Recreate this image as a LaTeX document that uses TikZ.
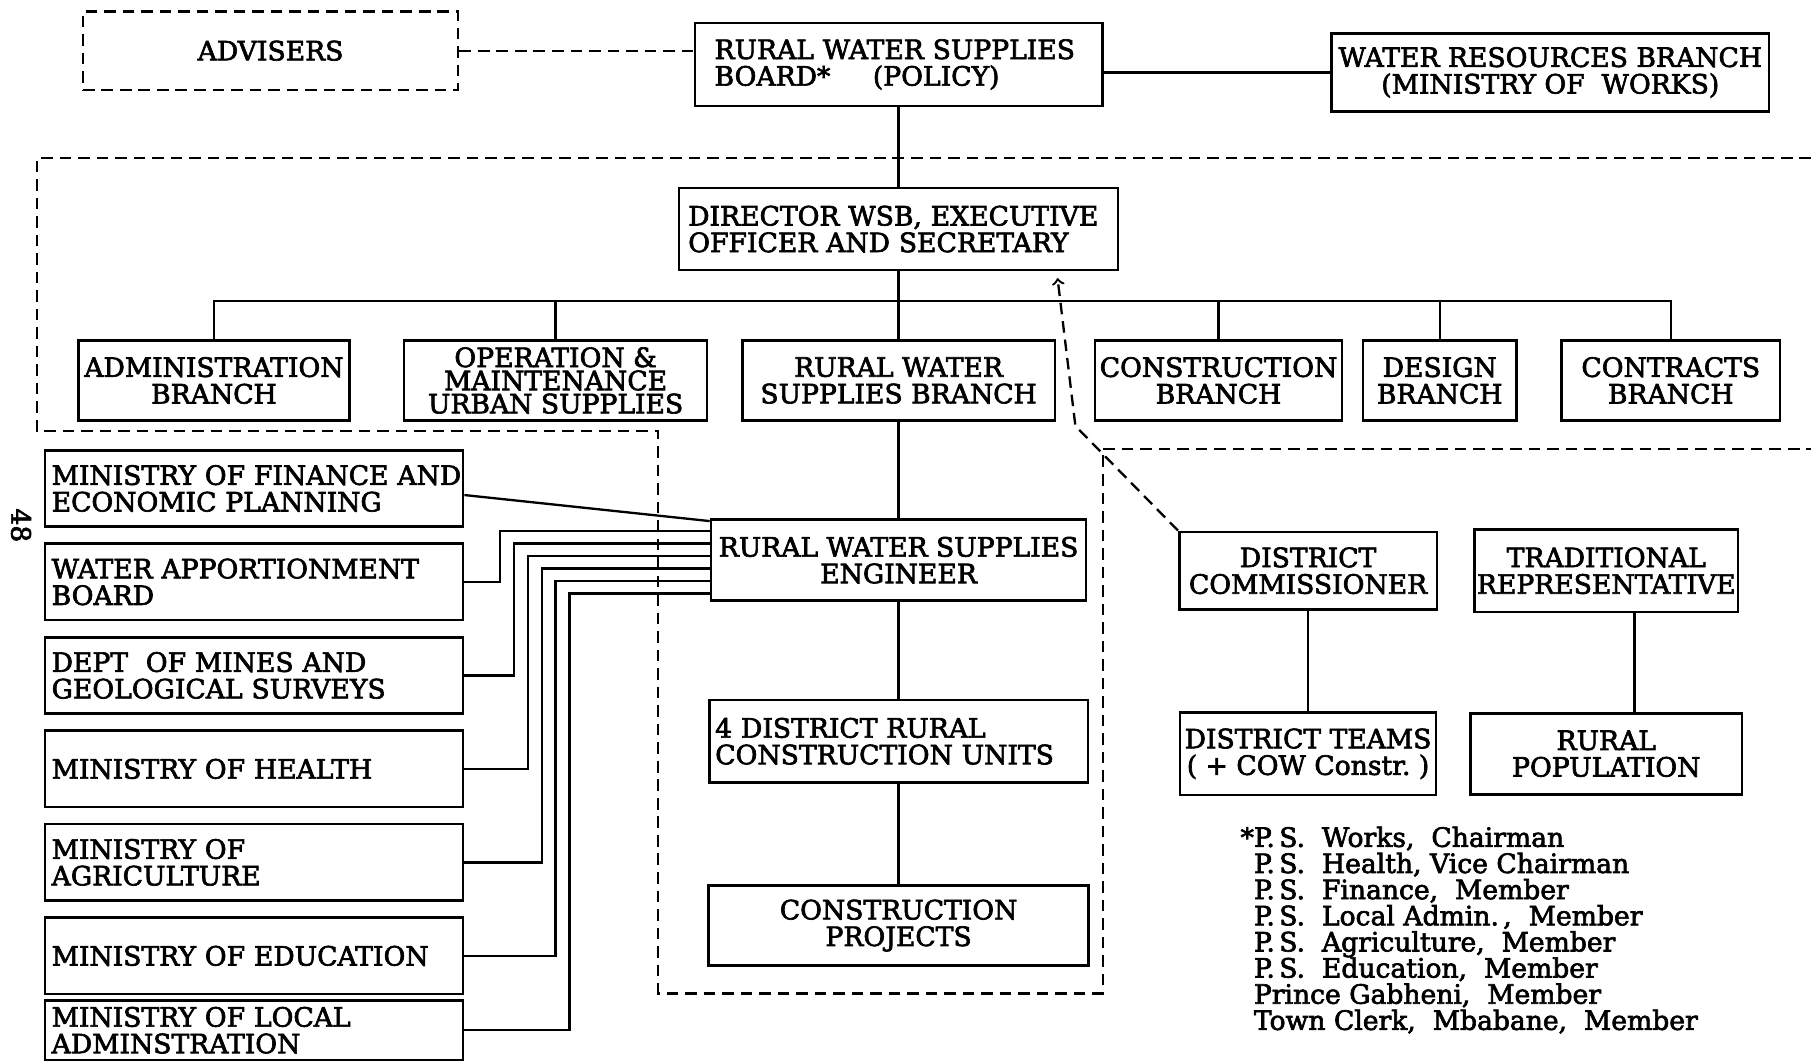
\documentclass[tikz,border=0pt]{standalone}
\usepackage{fontspec}
\setmainfont{DejaVu Serif}[FakeBold=2.5]
\usepackage{tikz}
\usetikzlibrary{shapes,arrows}
\tikzstyle{unit} = [rectangle, draw, line width=1.1pt, align=center, inner sep=2pt,
    font=\fontsize{11.5}{11.5}\selectfont, minimum height=1.22cm]
\tikzstyle{dashedunit} = [unit, dash pattern=on 5pt off 3pt]
\tikzstyle{leftunit} = [unit, align=left]
\tikzstyle{ministry} = [unit, align=left, text width=6.15cm, inner xsep=0.1cm, minimum height=1.16cm]
\tikzstyle{line} = [draw, line width=1pt]
\tikzstyle{dashline} = [draw, line width=1pt, dash pattern=on 5pt off 3pt]
\tikzstyle{notes} = [font=\fontsize{11.5}{11.3}\selectfont, align=left, inner sep=0pt]

\begin{document}
\begin{tikzpicture}[node distance = 2cm, auto]
    \useasboundingbox (0,0) rectangle (27.51,-16.12);
    % Place nodes
    \node [leftunit, text width=5.59cm, inner xsep=0.3cm, minimum height=1.26cm] (board) at (13.65,-0.98) {RURAL WATER SUPPLIES\\BOARD*\hspace{1.6em}(POLICY)};
    \node [dashedunit, left of=board, node distance=9.54cm, yshift=0.21cm, minimum width=5.70cm, minimum height=1.19cm] (advisers) {ADVISERS};
    \node [unit, right of=board, node distance=9.90cm, yshift=-0.12cm, minimum width=6.65cm, minimum height=1.18cm] (wrb) {WATER RESOURCES BRANCH\\(MINISTRY OF\ \ WORKS)};
    \node [leftunit, below of=board, node distance=2.50cm, text width=6.39cm, inner xsep=0.14cm, minimum height=1.25cm] (director) {DIRECTOR WSB, EXECUTIVE\\OFFICER\ AND\ SECRETARY};
    % branches
    \node [unit, below of=director, node distance=2.30cm, minimum width=4.75cm] (rwsb) {RURAL WATER\\SUPPLIES BRANCH};
    \node [unit, left of=rwsb, node distance=5.21cm, minimum width=4.60cm, font=\fontsize{11.5}{10}\selectfont, inner ysep=1pt] (om) {OPERATION \&\\MAINTENANCE\\URBAN SUPPLIES};
    \node [unit, left of=om, node distance=5.19cm, minimum width=4.12cm] (admin) {ADMINISTRATION\\BRANCH};
    \node [unit, right of=rwsb, node distance=4.86cm, minimum width=3.68cm] (constr) {CONSTRUCTION\\BRANCH};
    \node [unit, right of=constr, node distance=3.36cm, minimum width=2.33cm] (design) {DESIGN\\BRANCH};
    \node [unit, right of=design, node distance=3.51cm, minimum width=3.32cm] (contracts) {CONTRACTS\\BRANCH};
    % rural water supplies column
    \node [unit, below of=rwsb, node distance=2.73cm, minimum width=5.70cm, minimum height=1.23cm] (engineer) {RURAL WATER SUPPLIES\\ENGINEER};
    \node [leftunit, below of=engineer, node distance=2.75cm, text width=5.57cm, inner xsep=0.09cm, minimum height=1.26cm] (units) {4 DISTRICT RURAL\\CONSTRUCTION UNITS};
    \node [unit, below of=units, node distance=2.80cm, minimum width=5.77cm, minimum height=1.21cm] (projects) {CONSTRUCTION\\PROJECTS};
    % ministries
    \node [ministry] (finance) at (3.86,-7.42) {\mbox{MINISTRY OF FINANCE AND}\\ECONOMIC PLANNING};
    \node [ministry, below of=finance, node distance=1.42cm] (wab) {WATER APPORTIONMENT\\BOARD};
    \node [ministry, below of=wab, node distance=1.42cm] (mines) {DEPT\ \ OF MINES AND\\GEOLOGICAL SURVEYS};
    \node [ministry, below of=mines, node distance=1.42cm] (health) {MINISTRY OF HEALTH};
    \node [ministry, below of=health, node distance=1.42cm] (agri) {MINISTRY OF\\AGRICULTURE};
    \node [ministry, below of=agri, node distance=1.42cm] (edu) {MINISTRY OF EDUCATION};
    \node [ministry, below of=edu, node distance=1.13cm, minimum height=0.90cm] (local) {MINISTRY OF LOCAL\\ADMINSTRATION};
    % district level
    \node [unit, right of=engineer, node distance=6.22cm, yshift=-0.16cm, minimum width=3.91cm, minimum height=1.18cm] (dc) {DISTRICT\\COMMISSIONER};
    \node [unit, right of=dc, node distance=4.53cm, minimum width=3.89cm, minimum height=1.26cm, inner xsep=1pt] (trad) {TRADITIONAL\\REPRESENTATIVE};
    \node [unit, below of=dc, node distance=2.78cm, minimum width=3.89cm, minimum height=1.25cm] (teams) {DISTRICT TEAMS\\( + COW Constr.\ )};
    \node [unit, below of=trad, node distance=2.78cm, minimum width=4.12cm, minimum height=1.23cm] (pop) {RURAL\\POPULATION};
    \node [notes, anchor=north west] (members) at (19.04,-12.55) {\llap{*}P.\,S.\ \ Works,\ \ Chairman\\
        P.\,S.\ \ Health, Vice Chairman\\
        P.\,S.\ \ Finance,\ \ Member\\
        P.\,S.\ \ Local Admin.\,,\ \ Member\\
        P.\,S.\ \ Agriculture,\ \ Member\\
        P.\,S.\ \ Education,\ \ Member\\
        Prince Gabheni,\ \ Member\\
        Town Clerk,\ \ Mbabane,\ \ Member};
    \node [rotate=-90, font=\fontsize{11.5}{11.5}\selectfont] (page) at (0.32,-7.98) {48};
    % Draw edges
    \path [dashline] (advisers.east) -- (advisers.east -| board.west);
    \path [line] (wrb.west -| board.east) -- (wrb.west);
    \path [line] (board) -- (director);
    \path [line] (director) -- (rwsb);
    \coordinate (bar) at ([yshift=0.58cm]rwsb.north);
    \path [line] (admin.north) |- (bar) -| (contracts.north);
    \path [line] (om.north) -- (om.north |- bar);
    \path [line] (constr.north) -- (constr.north |- bar);
    \path [line] (design.north) -- (design.north |- bar);
    \path [line] (rwsb) -- (engineer);
    \path [line] (engineer) -- (units);
    \path [line] (units) -- (projects);
    \path [line] (dc) -- (teams);
    \path [line] ([xshift=0.43cm]trad.south) -- ([xshift=0.43cm]trad.south |- pop.north);
    \path [line] ([yshift=-0.1cm]finance.east) -- ([yshift=-0.04cm]engineer.north west);
    \path [line] (wab.east) -- ++(0.545,0) |- ([yshift=-0.19cm]engineer.north west);
    \path [line] (mines.east) -- ++(0.755,0) |- ([yshift=-0.38cm]engineer.north west);
    \path [line] (health.east) -- ++(0.965,0) |- ([yshift=-0.57cm]engineer.north west);
    \path [line] (agri.east) -- ++(1.175,0) |- ([yshift=-0.76cm]engineer.north west);
    \path [line] (edu.east) -- ++(1.385,0) |- ([yshift=-0.95cm]engineer.north west);
    \path [line] (local.east) -- ++(1.595,0) |- ([yshift=-1.14cm]engineer.north west);
    \path [dashline, ->] (dc.north west) -- ++(-1.56,1.59) -- ([xshift=-0.94cm,yshift=-0.1cm]director.south east);
    % dashed boundaries
    \path [dashline] (27.51,-2.40) -- (0.56,-2.40) -- (0.56,-6.55) -- (10.0,-6.55) -- (10.0,-15.09) -- (16.75,-15.09) -- (16.75,-6.82) -- (27.51,-6.82);
\end{tikzpicture}
\end{document}
